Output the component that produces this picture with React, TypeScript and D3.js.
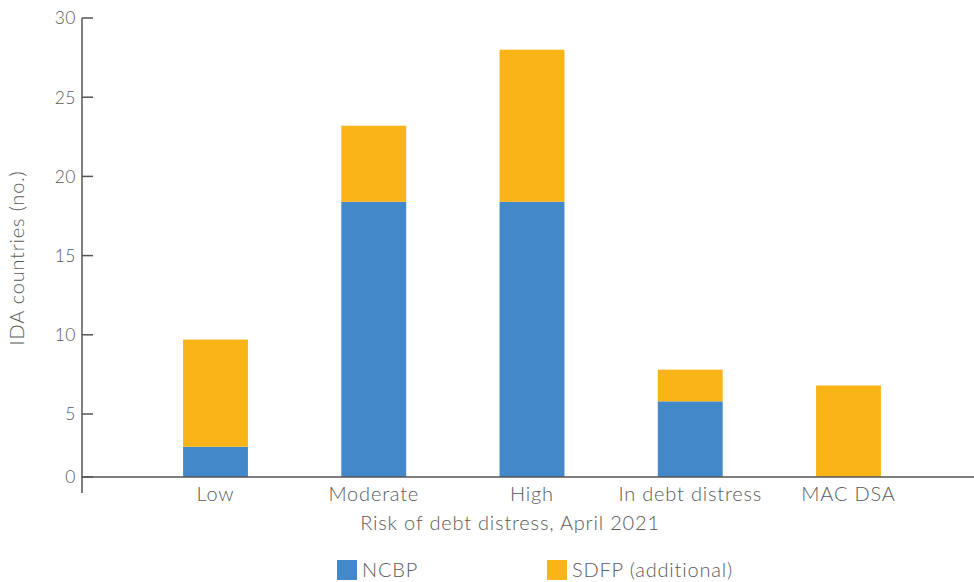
import React from "react";
import * as d3 from "d3";

const categories = ["Low", "Moderate", "High", "In debt distress", "MAC DSA"];
const ncbp = [2.4, 18.4, 18.4, 5.8, 0];
const sdfp = [7.3, 4.8, 9.6, 2.0, 6.8];
const yTicks = [0, 5, 10, 15, 20, 25, 30];
const seriesNames = ["NCBP", "SDFP (additional)"];
const colors = ["#4388C8", "#F9B418"];

const W = 974;
const H = 582;
const FONT = "Lato, 'Open Sans', sans-serif";
const AXIS = "#555";
const TEXT = "#5a5a5a";
const LS = 0.8;

export default function App() {
  const y = d3.scaleLinear().domain([0, 5, 30]).range([477, 414, 18]);
  const x = d3.scalePoint<string>().domain(categories).range([215.5, 848.5]);
  const bw = x.step() * 0.41;
  const stack = d3.stack<number>().keys(["0", "1"]).value((i, k) => (k === "0" ? ncbp[i] : sdfp[i]));
  const series = stack(categories.map((_, i) => i));

  return (
    <svg width={W} height={H} style={{ position: "absolute", left: 0, top: 0 }} fontFamily={FONT}>
      {series.map((s, si) =>
        s.map((d, i) =>
          d[1] - d[0] > 0 ? (
            <rect
              key={`${si}-${i}`}
              x={(x(categories[i]) as number) - bw / 2}
              y={y(d[1])}
              width={bw}
              height={y(d[0]) - y(d[1])}
              fill={colors[si]}
            />
          ) : null
        )
      )}
      {/* y axis */}
      <line x1={82} x2={82} y1={y(30)} y2={493} stroke={AXIS} strokeWidth={1.5} />
      {yTicks.map((t) => (
        <g key={t}>
          <line x1={82} x2={93} y1={y(t)} y2={y(t)} stroke={AXIS} strokeWidth={1.5} />
          <text x={76} y={y(t)} dy="0.36em" textAnchor="end" fontSize={17.5} fontWeight={300} fill={TEXT} letterSpacing={0.5}>
            {t}
          </text>
        </g>
      ))}
      {/* x axis */}
      <line x1={82} x2={W} y1={y(0)} y2={y(0)} stroke={AXIS} strokeWidth={1.5} />
      {categories.map((c) => (
        <text key={c} x={x(c) as number} y={501} textAnchor="middle" fontSize={20} fontWeight={300} fill={TEXT} letterSpacing={LS}>
          {c}
        </text>
      ))}
      <text x={510} y={530} textAnchor="middle" fontSize={20} fontWeight={300} fill={TEXT} letterSpacing={LS}>
        Risk of debt distress, April 2021
      </text>
      <text
        transform={`translate(24,258) rotate(-90)`}
        textAnchor="middle"
        fontSize={20}
        fontWeight={300}
        fill={TEXT}
        letterSpacing={LS}
      >
        IDA countries (no.)
      </text>
      {/* legend */}
      {seriesNames.map((n, i) => {
        const lx = i === 0 ? 337 : 547;
        return (
          <g key={n}>
            <rect x={lx} y={560} width={20} height={20} fill={colors[i]} />
            <text x={lx + 25} y={577} fontSize={20} fontWeight={300} fill={TEXT} letterSpacing={LS}>
              {n}
            </text>
          </g>
        );
      })}
    </svg>
  );
}
